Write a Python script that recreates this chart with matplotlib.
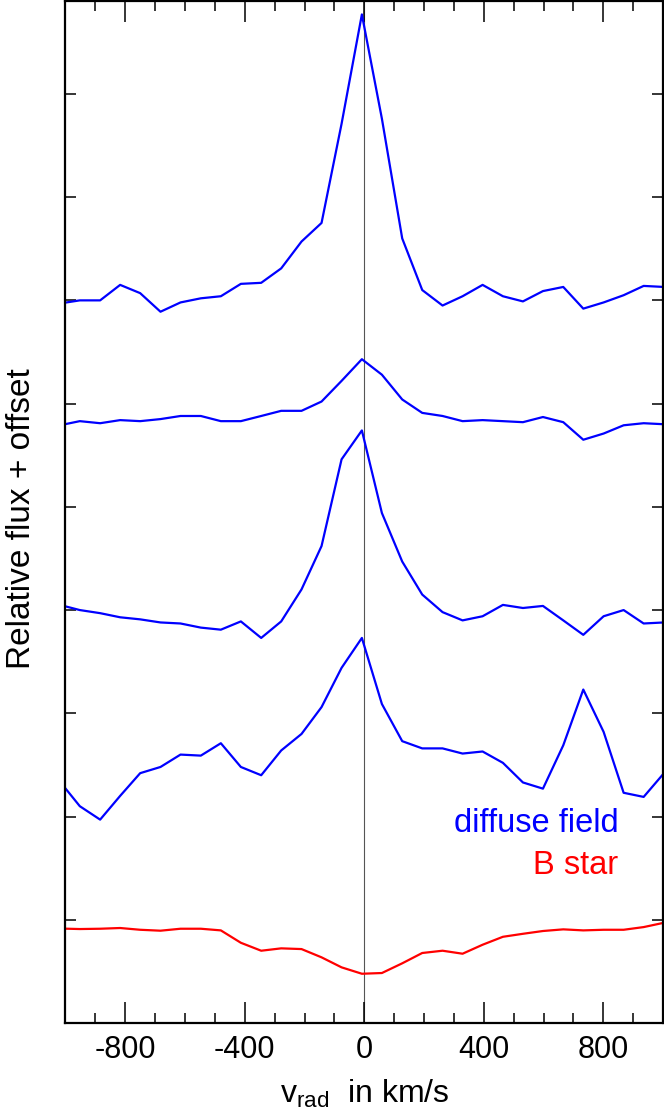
"""Diffuse field vs B star line profiles."""

import matplotlib
matplotlib.use("Agg")
import matplotlib.pyplot as plt
from matplotlib.ticker import MultipleLocator

plt.rcParams['font.family'] = ['Liberation Sans', 'DejaVu Sans']
plt.rcParams['mathtext.fontset'] = 'custom'
plt.rcParams['mathtext.rm'] = 'Liberation Sans'
plt.rcParams['axes.unicode_minus'] = False

# radial velocity grid (km/s)
v_rad = [-1019, -952, -884, -817, -750, -682, -615, -547, -480, -413, -345,
         -278, -210, -143, -76, -8, 59, 127, 194, 262, 329, 396, 464, 531,
         598, 666, 733, 801, 868, 935, 1003]

# diffuse field spectra, already offset (top to bottom)
diffuse_1 = [6.97, 7.00, 7.00, 7.15, 7.07, 6.89, 6.98, 7.02, 7.04, 7.16, 7.17,
             7.31, 7.57, 7.75, 8.71, 9.77, 8.76, 7.60, 7.10, 6.95, 7.04, 7.15,
             7.04, 6.99, 7.09, 7.13, 6.92, 6.98, 7.05, 7.14, 7.13]
diffuse_2 = [5.79, 5.83, 5.81, 5.84, 5.83, 5.85, 5.88, 5.88, 5.83, 5.83, 5.88,
             5.93, 5.93, 6.02, 6.22, 6.43, 6.28, 6.04, 5.91, 5.88, 5.83, 5.84,
             5.83, 5.82, 5.87, 5.82, 5.65, 5.71, 5.79, 5.81, 5.80]
diffuse_3 = [4.05, 4.00, 3.97, 3.93, 3.91, 3.88, 3.87, 3.83, 3.81, 3.89, 3.73,
             3.89, 4.20, 4.62, 5.46, 5.74, 4.94, 4.47, 4.15, 3.98, 3.90, 3.94,
             4.05, 4.02, 4.04, 3.90, 3.76, 3.94, 4.00, 3.87, 3.88]
diffuse_4 = [2.34, 2.10, 1.97, 2.20, 2.42, 2.48, 2.60, 2.59, 2.71, 2.48, 2.40,
             2.64, 2.80, 3.06, 3.44, 3.73, 3.09, 2.73, 2.66, 2.66, 2.61, 2.63,
             2.52, 2.33, 2.27, 2.69, 3.23, 2.82, 2.23, 2.19, 2.42]
# B star spectrum
b_star = [0.915, 0.910, 0.913, 0.920, 0.903, 0.894, 0.913, 0.913, 0.897, 0.777,
          0.700, 0.723, 0.716, 0.636, 0.539, 0.477, 0.484, 0.578, 0.678, 0.700,
          0.671, 0.758, 0.835, 0.864, 0.891, 0.907, 0.897, 0.903, 0.903, 0.929,
          0.971]

fig = plt.figure(figsize=(6.64, 11.14), dpi=100)
ax = fig.add_axes([0.0986, 0.0817, 0.9, 0.9174])

ax.axvline(0, color='#555555', lw=0.8, zorder=1)
for spec in (diffuse_1, diffuse_2, diffuse_3, diffuse_4):
    ax.plot(v_rad, spec, color='#0000ff', lw=1.6)
ax.plot(v_rad, b_star, color='#ff0000', lw=1.6)

ax.set_xlim(-1000, 1000)
ax.set_ylim(0, 9.9)
ax.xaxis.set_major_locator(MultipleLocator(400))
ax.xaxis.set_minor_locator(MultipleLocator(100))
ax.yaxis.set_major_locator(MultipleLocator(1))
ax.set_yticklabels([])
ax.tick_params(axis='x', which='major', direction='in', length=15, width=1.1,
               top=True, labelsize=22, pad=9)
ax.tick_params(axis='x', which='minor', direction='in', length=7, width=1.1,
               top=True)
ax.tick_params(axis='y', which='major', direction='in', length=8, width=1.1,
               right=True)
for s in ax.spines.values():
    s.set_linewidth(1.6)

ax.set_xlabel(r'v$_{\rm rad}$  in km/s', fontsize=23, labelpad=9)
ax.set_ylabel('Relative flux + offset', fontsize=24, labelpad=17)
ax.yaxis.label.set_y(0.494)

ax.text(0.9255, 0.187, 'diffuse field', color='#0000ff', fontsize=23.5,
        ha='right', va='baseline', transform=ax.transAxes)
ax.text(0.9255, 0.146, 'B star', color='#ff0000', fontsize=23.5,
        ha='right', va='baseline', transform=ax.transAxes)

fig.savefig('out.png', dpi=100)
